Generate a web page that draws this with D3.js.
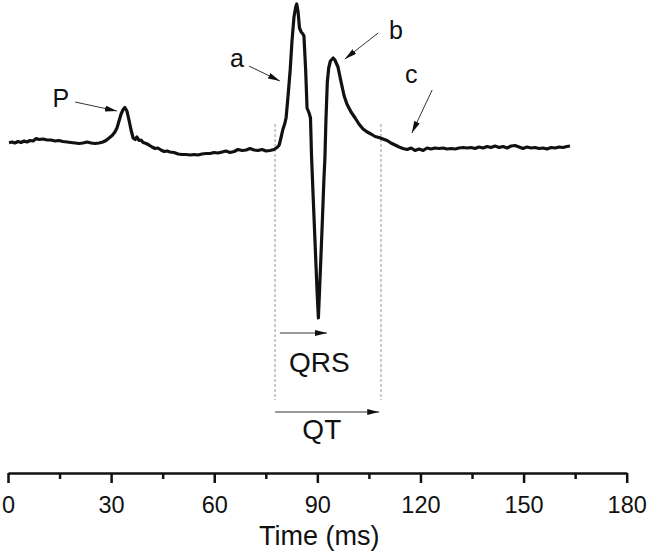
<!doctype html>
<html>
<head>
<meta charset="utf-8">
<title>ECG waveform</title>
<script src="https://cdnjs.cloudflare.com/ajax/libs/d3/7.8.5/d3.min.js"></script>
<style>
  body { margin: 0; background: #fff; }
  svg text { font-family: "Liberation Sans", Arial, sans-serif; fill: #111; }
</style>
</head>
<body>
<svg width="649" height="553"></svg>
<script>
// time (ms) and amplitude (mV) of the trace
var times = [0.3, 1.2, 2.0, 2.9, 3.8, 4.7, 5.5, 6.4, 7.3, 8.2, 9.0, 10.2, 11.4, 12.5, 13.7, 14.8, 16.0, 17.2, 18.3, 19.5,
  20.7, 21.8, 23.0, 24.2, 25.3, 26.5, 27.6, 28.5, 29.4, 30.3, 31.1, 31.7, 32.3, 32.9, 33.5, 34.0, 34.6, 35.2, 35.8, 36.4,
  37.0, 37.5, 38.1, 38.7, 39.3, 40.2, 41.0, 41.9, 42.8, 43.6, 44.5, 45.4, 46.3, 47.1, 48.3, 49.5, 50.6, 51.8, 53.0, 54.1,
  55.3, 56.4, 57.6, 58.8, 59.9, 61.1, 62.3, 63.4, 64.6, 65.8, 66.9, 68.1, 69.3, 70.4, 71.6, 72.7, 73.9, 75.1, 76.2, 77.4,
  78.3, 78.9, 79.4, 80.0, 80.5, 80.9, 81.5, 82.1, 82.6, 83.2, 83.7, 84.0, 84.4, 84.8, 85.3, 85.8, 86.1, 86.6, 87.0, 87.6,
  88.0, 88.3, 88.7, 89.3, 89.9, 90.3, 90.8, 91.4, 91.9, 92.2, 92.5, 92.9, 93.3, 93.8, 94.6, 95.1, 96.0, 96.9, 97.8, 98.6,
  99.8, 101.0, 102.1, 103.3, 104.5, 105.6, 106.8, 107.9, 109.1, 110.3, 111.4, 112.6, 113.8, 114.9, 116.1, 117.3, 118.4, 119.6, 120.8, 121.9,
  123.1, 124.2, 125.4, 126.6, 127.7, 128.9, 130.1, 131.2, 132.4, 133.6, 134.7, 135.9, 137.0, 138.2, 139.4, 140.5, 141.7, 142.9, 144.0, 145.2,
  146.4, 147.5, 148.7, 149.8, 151.0, 152.2, 153.3, 154.5, 155.7, 156.8, 158.0, 159.2, 160.3, 161.5, 162.6, 163.5];
var volts = [0.003, 0.01, 0, 0.015, 0.005, 0.02, 0.01, 0.025, 0.02, 0.045, 0.035, 0.04, 0.03, 0.03, 0.02, 0.025, 0.015, 0.01, 0.005, 0,
  -0.005, 0, 0.01, 0, -0.005, 0, 0.01, 0.025, 0.05, 0.075, 0.11, 0.15, 0.22, 0.29, 0.335, 0.355, 0.32, 0.23, 0.13, 0.05,
  0.035, 0.06, 0.025, 0.03, 0.005, -0.005, -0.02, -0.04, -0.055, -0.05, -0.07, -0.085, -0.08, -0.09, -0.095, -0.11, -0.115, -0.115, -0.12, -0.115,
  -0.12, -0.11, -0.105, -0.105, -0.095, -0.1, -0.09, -0.08, -0.095, -0.085, -0.065, -0.075, -0.07, -0.055, -0.07, -0.075, -0.065, -0.08, -0.075, -0.065,
  -0.045, -0.02, 0.05, 0.14, 0.19, 0.25, 0.48, 0.73, 1.01, 1.26, 1.36, 1.39, 1.31, 1.15, 1.11, 1.09, 1.07, 0.73, 0.35, 0.30,
  0.25, -0.12, -0.47, -0.97, -1.47, -1.75, -1.34, -0.83, -0.37, -0.15, 0.23, 0.61, 0.75, 0.82, 0.85, 0.83, 0.76, 0.61, 0.47, 0.39,
  0.31, 0.25, 0.19, 0.14, 0.11, 0.09, 0.065, 0.055, 0.04, 0.025, 0, -0.02, -0.04, -0.055, -0.065, -0.05, -0.075, -0.06, -0.075, -0.05,
  -0.06, -0.05, -0.055, -0.05, -0.06, -0.055, -0.06, -0.05, -0.045, -0.05, -0.045, -0.055, -0.04, -0.05, -0.035, -0.045, -0.03, -0.045, -0.035, -0.05,
  -0.03, -0.025, -0.04, -0.055, -0.04, -0.05, -0.045, -0.055, -0.05, -0.06, -0.045, -0.05, -0.04, -0.045, -0.035, -0.03];

var majorTicks = [0, 30, 60, 90, 120, 150, 180];
var minorTicks = [15, 45, 75, 105, 135, 165];

// wave labels with arrows: label position and arrow start -> tip (ms, mV)
var waveNames = ["P", "a", "b", "c"];
var waveLabelT = [15.4, 66.6, 112.9, 117.3];
var waveLabelV = [0.45, 0.85, 1.13, 0.69];
var arrowFromT = [19.5, 70.1, 107.7, 123.4];
var arrowFromV = [0.41, 0.77, 1.10, 0.53];
var arrowToT = [31.7, 79.1, 98.0, 117.5];
var arrowToV = [0.32, 0.62, 0.84, 0.10];

// interval markers (ms)
var markerLines = [77.7, 108.5];
var intervalNames = ["QRS", "QT"];
var intervalStart = [79.1, 77.7];
var intervalEnd = [92.8, 108.0];
var intervalV = [-1.90, -2.69];
var intervalLabelT = [90.6, 91.3];
var intervalLabelV = [-2.19, -2.86];

var svg = d3.select("svg");
var x = d3.scaleLinear().domain([0, 180]).range([8, 626.7]);
var y = d3.scaleLinear().domain([-3.3, 1.45]).range([473, -2]);

var defs = svg.append("defs");
defs.append("marker").attr("id", "head").attr("viewBox", "0 0 12 6")
  .attr("refX", 12).attr("refY", 3).attr("markerWidth", 12).attr("markerHeight", 6)
  .attr("markerUnits", "userSpaceOnUse").attr("orient", "auto")
  .append("path").attr("d", "M0,0L12,3L0,6Z").attr("fill", "#111");

// dashed interval boundaries
svg.selectAll(".mark").data(markerLines).join("line")
  .attr("x1", d => x(d)).attr("x2", d => x(d))
  .attr("y1", y(0.19)).attr("y2", y(-2.57))
  .attr("stroke", "#999").attr("stroke-width", 1).attr("stroke-dasharray", "3,2");

// trace
var pts = times.map((t, i) => [t, volts[i]]);
svg.append("path").datum(pts)
  .attr("d", d3.line().x(d => x(d[0])).y(d => y(d[1])))
  .attr("fill", "none").attr("stroke", "#111").attr("stroke-width", 3.2)
  .attr("stroke-linejoin", "round");

// wave labels
waveNames.forEach(function(n, i) {
  svg.append("text").attr("x", x(waveLabelT[i])).attr("y", y(waveLabelV[i]))
    .attr("text-anchor", "middle").attr("dominant-baseline", "central")
    .attr("font-size", 25).text(n);
  svg.append("line")
    .attr("x1", x(arrowFromT[i])).attr("y1", y(arrowFromV[i]))
    .attr("x2", x(arrowToT[i])).attr("y2", y(arrowToV[i]))
    .attr("stroke", "#333").attr("stroke-width", 1).attr("marker-end", "url(#head)");
});

// QRS / QT
intervalNames.forEach(function(n, i) {
  svg.append("line")
    .attr("x1", x(intervalStart[i])).attr("x2", x(intervalEnd[i]))
    .attr("y1", y(intervalV[i])).attr("y2", y(intervalV[i]))
    .attr("stroke", "#333").attr("stroke-width", 1).attr("marker-end", "url(#head)");
  svg.append("text")
    .attr("x", x(intervalLabelT[i])).attr("y", y(intervalLabelV[i]))
    .attr("text-anchor", "middle").attr("dominant-baseline", "central")
    .attr("font-size", 28).text(n);
});

// x axis
var axisY = y(-3.3);
var gx = svg.append("g").attr("transform", "translate(0," + axisY + ")");
gx.call(d3.axisBottom(x).tickValues(majorTicks).tickSize(10).tickSizeOuter(0).tickPadding(13));
gx.append("g").call(d3.axisBottom(x).tickValues(minorTicks).tickSize(6).tickSizeOuter(0).tickFormat(""))
  .select(".domain").remove();
gx.selectAll("path, line").attr("stroke", "#111").attr("stroke-width", 2.5);
gx.selectAll("text").attr("font-size", 23.5).attr("fill", "#111")
  .style("font-family", "'Liberation Sans', Arial, sans-serif");

svg.append("text").attr("x", x(90) + 2).attr("y", 545)
  .attr("text-anchor", "middle").attr("font-size", 27).text("Time (ms)");
</script>
</body>
</html>
